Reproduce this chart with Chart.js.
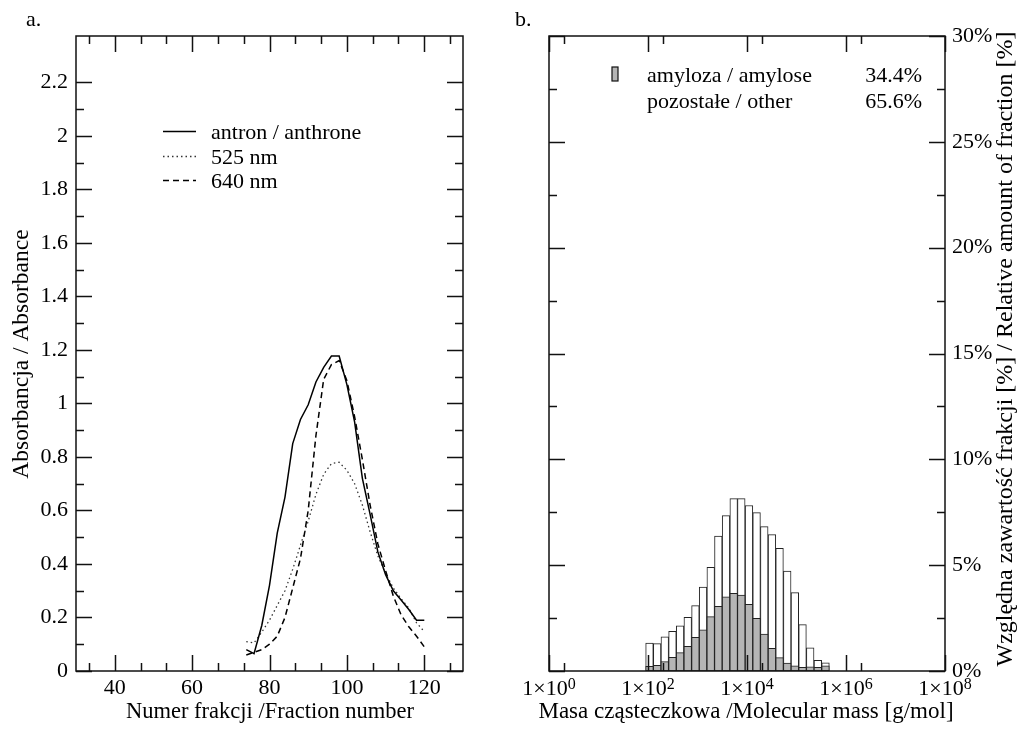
<!DOCTYPE html>
<html>
<head>
<meta charset="utf-8">
<script src="https://cdn.jsdelivr.net/npm/chart.js@4.4.1/dist/chart.umd.min.js"></script>
<style>
  html, body { margin: 0; padding: 0; background: #fff; }
  #wrap { position: relative; width: 1021px; height: 731px; }
  #chartA { position: absolute; left: 0; top: 0; }
  #chartB { position: absolute; left: 500px; top: 0; }
</style>
</head>
<body>
<div id="wrap">
  <canvas id="chartA" width="500" height="731"></canvas>
  <canvas id="chartB" width="521" height="731"></canvas>
</div>
<script>
// a. absorbancja frakcji
const fractionNumbers = [74, 76, 78, 80, 82, 84, 86, 88, 90, 92, 94, 96, 98, 100, 102, 104, 106, 108, 110, 112, 114, 116, 118, 120];
const anthroneValues = [0.08, 0.065, 0.17, 0.32, 0.515, 0.65, 0.85, 0.94, 0.995, 1.08, 1.135, 1.177, 1.177, 1.07, 0.93, 0.72, 0.585, 0.445, 0.36, 0.30, 0.265, 0.23, 0.19, 0.19];
const nm525Values = [0.11, 0.105, 0.145, 0.19, 0.245, 0.30, 0.38, 0.47, 0.56, 0.66, 0.735, 0.775, 0.78, 0.75, 0.70, 0.62, 0.52, 0.43, 0.365, 0.31, 0.27, 0.235, 0.18, 0.147];
const nm640Values = [0.06, 0.07, 0.08, 0.10, 0.13, 0.20, 0.31, 0.42, 0.60, 0.88, 1.09, 1.145, 1.16, 1.085, 0.95, 0.79, 0.62, 0.475, 0.375, 0.28, 0.21, 0.165, 0.13, 0.09];

const fractionMajor = [40, 60, 80, 100, 120];
const fractionMinor = [33.33, 46.67, 53.33, 66.67, 73.33, 86.67, 93.33, 106.67, 113.33, 126.67];
const absMajor = [0, 0.2, 0.4, 0.6, 0.8, 1, 1.2, 1.4, 1.6, 1.8, 2, 2.2];
const absMinor = [0.1, 0.3, 0.5, 0.7, 0.9, 1.1, 1.3, 1.5, 1.7, 1.9, 2.1];

// b. rozkład mas cząsteczkowych (log10 M, środki przedziałów)
const massBinsLog = [2.030, 2.185, 2.339, 2.494, 2.648, 2.803, 2.958, 3.112, 3.267, 3.421, 3.576, 3.731, 3.885, 4.040, 4.194, 4.349, 4.504, 4.658, 4.813, 4.967, 5.122, 5.277, 5.431, 5.586];
const totalPercent = [1.32, 1.29, 1.62, 1.87, 2.13, 2.54, 3.09, 3.97, 4.90, 6.38, 7.34, 8.14, 8.14, 7.82, 7.48, 6.82, 6.44, 5.80, 4.72, 3.70, 2.19, 1.10, 0.50, 0.39];
const amylosePercent = [0.22, 0.27, 0.44, 0.65, 0.87, 1.17, 1.59, 1.94, 2.57, 3.06, 3.50, 3.67, 3.59, 3.15, 2.49, 1.75, 1.07, 0.63, 0.38, 0.25, 0.17, 0.20, 0.17, 0.25];

const massMajor = [0, 2, 4, 6, 8];
const massMinor = [0.301, 2.301, 4.301, 6.301];
const percentMajor = [0, 5, 10, 15, 20, 25, 30];
const percentMinor = [2.5, 7.5, 12.5, 17.5, 22.5, 27.5];

const SERIF = "'Liberation Serif', 'Times New Roman', serif";
const INK = '#111';

Chart.defaults.font.family = SERIF;
Chart.defaults.color = '#000';

// ramka i ticki do środka
function drawFrame(chart, t) {
  const ctx = chart.ctx;
  const a = chart.chartArea;
  const xs = chart.scales.x;
  const ys = chart.scales.y;
  ctx.save();
  ctx.strokeStyle = INK;
  ctx.lineWidth = 1.5;
  ctx.beginPath();
  const vTick = (v, len) => {
    const px = Math.round(xs.getPixelForValue(v)) + 0.5;
    ctx.moveTo(px, a.bottom); ctx.lineTo(px, a.bottom - len);
    ctx.moveTo(px, a.top); ctx.lineTo(px, a.top + len);
  };
  const hTick = (v, len) => {
    const py = Math.round(ys.getPixelForValue(v)) + 0.5;
    ctx.moveTo(a.left, py); ctx.lineTo(a.left + len, py);
    ctx.moveTo(a.right, py); ctx.lineTo(a.right - len, py);
  };
  t.xMajor.forEach(v => vTick(v, 16));
  t.xMinor.forEach(v => vTick(v, 8));
  t.yMajor.forEach(v => hTick(v, 16));
  t.yMinor.forEach(v => hTick(v, 8));
  ctx.stroke();
  ctx.strokeRect(a.left, a.top, a.right - a.left, a.bottom - a.top);
  ctx.restore();
}

function rotatedText(ctx, text, x, y) {
  ctx.save();
  ctx.translate(x, y);
  ctx.rotate(-Math.PI / 2);
  ctx.textAlign = 'center';
  ctx.textBaseline = 'middle';
  ctx.fillText(text, 0, 0);
  ctx.restore();
}

const decorA = {
  id: 'decorA',
  afterDatasetsDraw(chart) {
    drawFrame(chart, { xMajor: fractionMajor, xMinor: fractionMinor, yMajor: absMajor, yMinor: absMinor });
  },
  afterDraw(chart) {
    const ctx = chart.ctx;
    ctx.save();
    ctx.fillStyle = '#000';
    ctx.font = `22px ${SERIF}`;
    ctx.textAlign = 'left';
    ctx.textBaseline = 'alphabetic';
    ctx.fillText('a.', 26, 26);
    ctx.font = `22.5px ${SERIF}`;
    ctx.textAlign = 'center';
    ctx.fillText('Numer frakcji /Fraction number', 270, 718);
    ctx.font = `23.5px ${SERIF}`;
    rotatedText(ctx, 'Absorbancja / Absorbance', 22, 354);

    // legenda
    ctx.font = `22px ${SERIF}`;
    const items = [
      { text: 'antron / anthrone', y: 131, dash: [], width: 1.5, color: '#000' },
      { text: '525 nm', y: 156, dash: [1.5, 3], width: 1.3, color: '#333' },
      { text: '640 nm', y: 180, dash: [6, 4], width: 1.5, color: '#000' }
    ];
    items.forEach(it => {
      ctx.beginPath();
      ctx.setLineDash(it.dash);
      ctx.lineWidth = it.width;
      ctx.strokeStyle = it.color;
      ctx.moveTo(163, it.y + 0.5);
      ctx.lineTo(196, it.y + 0.5);
      ctx.stroke();
      ctx.setLineDash([]);
      ctx.textAlign = 'left';
      ctx.fillText(it.text, 211, it.y + 7.5);
    });
    ctx.restore();
  }
};

const decorB = {
  id: 'decorB',
  afterDatasetsDraw(chart) {
    drawFrame(chart, { xMajor: massMajor, xMinor: massMinor, yMajor: percentMajor, yMinor: percentMinor });
  },
  afterDraw(chart) {
    const ctx = chart.ctx;
    const xs = chart.scales.x;
    ctx.save();
    ctx.fillStyle = '#000';
    ctx.font = `22px ${SERIF}`;
    ctx.textBaseline = 'alphabetic';
    ctx.textAlign = 'left';
    ctx.fillText('b.', 15, 26);

    // etykiety osi x: 1×10^n
    massMajor.forEach(v => {
      const px = xs.getPixelForValue(v);
      const base = '1×10';
      const exp = String(v);
      ctx.font = `22px ${SERIF}`;
      const w1 = ctx.measureText(base).width;
      ctx.font = `16px ${SERIF}`;
      const w2 = ctx.measureText(exp).width;
      const start = px - (w1 + w2) / 2;
      ctx.font = `22px ${SERIF}`;
      ctx.fillText(base, start, 695);
      ctx.font = `16px ${SERIF}`;
      ctx.fillText(exp, start + w1, 689);
    });

    ctx.font = `23px ${SERIF}`;
    ctx.textAlign = 'center';
    ctx.fillText('Masa cząsteczkowa /Molecular mass [g/mol]', 246, 718);
    ctx.font = `24px ${SERIF}`;
    rotatedText(ctx, 'Względna zawartość frakcji [%] / Relative amount of fraction [%]', 506, 349);

    // legenda
    ctx.font = `22px ${SERIF}`;
    ctx.fillStyle = '#b5b5b5';
    ctx.fillRect(112, 67, 6, 14);
    ctx.strokeStyle = INK;
    ctx.lineWidth = 1.2;
    ctx.strokeRect(112, 67, 6, 14);
    ctx.fillStyle = '#000';
    ctx.textAlign = 'left';
    ctx.fillText('amyloza / amylose', 147, 82);
    ctx.fillText('pozostałe / other', 147, 108);
    ctx.textAlign = 'right';
    ctx.fillText('34.4%', 422, 82);
    ctx.fillText('65.6%', 422, 108);
    ctx.restore();
  }
};

const tickFont = { family: SERIF, size: 22 };

new Chart(document.getElementById('chartA'), {
  type: 'line',
  data: {
    datasets: [
      {
        label: 'antron / anthrone',
        data: fractionNumbers.map((x, i) => ({ x, y: anthroneValues[i] })),
        borderColor: '#000', borderWidth: 1.5, pointRadius: 0, tension: 0
      },
      {
        label: '525 nm',
        data: fractionNumbers.map((x, i) => ({ x, y: nm525Values[i] })),
        borderColor: '#333', borderWidth: 1.3, borderDash: [1.5, 3], pointRadius: 0, tension: 0
      },
      {
        label: '640 nm',
        data: fractionNumbers.map((x, i) => ({ x, y: nm640Values[i] })),
        borderColor: '#000', borderWidth: 1.5, borderDash: [6, 4], pointRadius: 0, tension: 0
      }
    ]
  },
  options: {
    responsive: false,
    animation: false,
    layout: { padding: { left: 0, top: 36, right: 37, bottom: 0 } },
    plugins: { legend: { display: false }, tooltip: { enabled: false } },
    scales: {
      x: {
        type: 'linear', min: 30, max: 130,
        grid: { display: false, drawTicks: false },
        border: { display: false },
        ticks: { font: tickFont, color: '#000', padding: 4, maxRotation: 0, autoSkip: false, callback: v => String(v) },
        afterBuildTicks: axis => { axis.ticks = fractionMajor.map(v => ({ value: v })); },
        afterFit: axis => { axis.height = 60; }
      },
      y: {
        type: 'linear', min: 0, max: 2.373,
        grid: { display: false, drawTicks: false },
        border: { display: false },
        ticks: { font: tickFont, color: '#000', padding: 8, autoSkip: false, callback: v => String(Math.round(v * 10) / 10) },
        afterBuildTicks: axis => { axis.ticks = absMajor.map(v => ({ value: v })); },
        afterFit: axis => { axis.width = 76; }
      }
    }
  },
  plugins: [decorA]
});

new Chart(document.getElementById('chartB'), {
  type: 'bar',
  data: {
    datasets: [
      {
        label: 'amyloza / amylose',
        data: massBinsLog.map((x, i) => ({ x, y: amylosePercent[i] })),
        backgroundColor: '#b5b5b5', borderColor: '#222', borderWidth: 1, borderSkipped: false,
        grouped: false, barPercentage: 1, categoryPercentage: 1
      },
      {
        label: 'razem / total',
        data: massBinsLog.map((x, i) => ({ x, y: totalPercent[i] })),
        backgroundColor: '#fff', borderColor: '#222', borderWidth: 1, borderSkipped: false,
        grouped: false, barPercentage: 1, categoryPercentage: 1
      }
    ]
  },
  options: {
    responsive: false,
    animation: false,
    layout: { padding: { left: 49, top: 36, right: 0, bottom: 0 } },
    plugins: { legend: { display: false }, tooltip: { enabled: false } },
    scales: {
      x: {
        type: 'linear', min: 0, max: 8, offset: false,
        grid: { display: false, drawTicks: false },
        border: { display: false },
        ticks: { display: false },
        afterFit: axis => { axis.height = 60; }
      },
      y: {
        type: 'linear', position: 'right', min: 0, max: 30,
        grid: { display: false, drawTicks: false },
        border: { display: false },
        ticks: { font: tickFont, color: '#000', padding: 7, autoSkip: false, callback: v => v + '%' },
        afterBuildTicks: axis => { axis.ticks = percentMajor.map(v => ({ value: v })); },
        afterFit: axis => { axis.width = 76; }
      }
    }
  },
  plugins: [decorB]
});
</script>
</body>
</html>
